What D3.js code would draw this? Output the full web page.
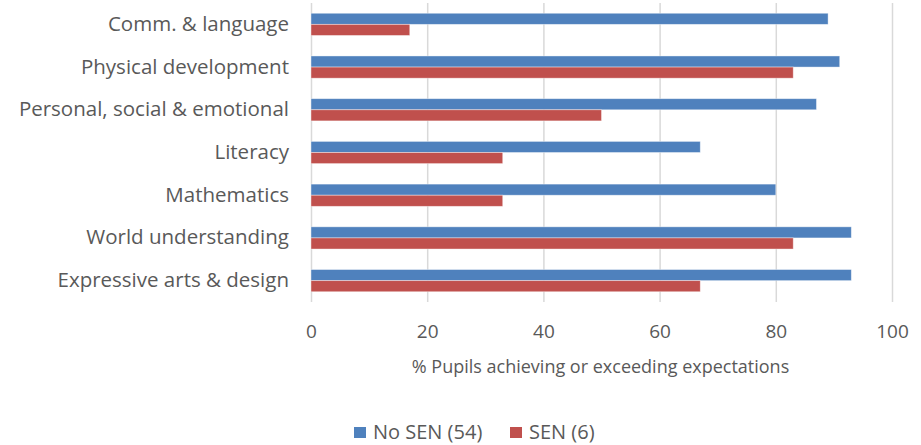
<!DOCTYPE html>
<html>
<head>
<meta charset="utf-8">
<script src="https://cdn.jsdelivr.net/npm/d3@7"></script>
<style>
  body { margin: 0; background: #fff; }
  text { font-family: "Open Sans", sans-serif; fill: #595959; }
</style>
</head>
<body>
<div id="chart"></div>
<script>
var categories = ["Comm. & language", "Physical development", "Personal, social & emotional",
  "Literacy", "Mathematics", "World understanding", "Expressive arts & design"];
var noSen = [89, 91, 87, 67, 80, 93, 93];
var sen = [17, 83, 50, 33, 33, 83, 67];
var seriesNames = ["No SEN (54)", "SEN (6)"];
var seriesColors = ["#4F81BD", "#C0504D"];
var ticks = [0, 20, 40, 60, 80, 100];

var width = 921, height = 445;
var margin = {left: 311, right: 29, top: 3, bottom: 143};

var svg = d3.select("#chart").append("svg")
  .attr("width", width)
  .attr("height", height);

var x = d3.scaleLinear()
  .domain([0, 100])
  .range([margin.left, width - margin.right]);

var y = d3.scaleBand()
  .domain(categories)
  .range([margin.top, height - margin.bottom])
  .paddingInner(0.48)
  .paddingOuter(0.24);

var sub = d3.scaleBand()
  .domain([0, 1])
  .range([0, y.bandwidth()]);

// gridlines
svg.append("g")
  .selectAll("line")
  .data(ticks)
  .enter()
  .append("line")
  .attr("x1", function(d) { return x(d) + 0.5; })
  .attr("x2", function(d) { return x(d) + 0.5; })
  .attr("y1", margin.top)
  .attr("y2", height - margin.bottom)
  .attr("stroke", "#D9D9D9")
  .attr("stroke-width", 1.5);

// bars
var rows = categories.map(function(c, i) { return {cat: c, vals: [noSen[i], sen[i]]}; });
var groups = svg.append("g")
  .selectAll("g")
  .data(rows)
  .enter()
  .append("g")
  .attr("transform", function(d) { return "translate(0," + y(d.cat) + ")"; });

groups.selectAll("rect")
  .data(function(d) { return d.vals; })
  .enter()
  .append("rect")
  .attr("x", x(0))
  .attr("y", function(d, i) { return sub(i); })
  .attr("width", function(d) { return x(d) - x(0); })
  .attr("height", sub.bandwidth())
  .attr("fill", function(d, i) { return seriesColors[i]; })
  .attr("stroke", "rgba(255,255,255,0.5)")
  .attr("stroke-width", 0.8);

// category labels
var yAxis = svg.append("g")
  .attr("transform", "translate(" + (margin.left - 22) + ",0)")
  .call(d3.axisLeft(y).tickSize(0).tickPadding(0));
yAxis.select(".domain").remove();
yAxis.selectAll("text")
  .style("font-family", "'Open Sans', sans-serif")
  .style("font-size", "20.5px")
  .attr("fill", "#595959")
  .attr("dy", "0.32em");

// x tick labels
var xAxis = svg.append("g")
  .attr("transform", "translate(0," + (height - margin.bottom) + ")")
  .call(d3.axisBottom(x).tickValues(ticks).tickSize(0).tickPadding(23));
xAxis.select(".domain").remove();
xAxis.selectAll("text")
  .style("font-family", "'Open Sans', sans-serif")
  .style("font-size", "19px")
  .attr("fill", "#595959");

// axis title
svg.append("text")
  .attr("x", (x(0) + x(100)) / 2 - 1)
  .attr("y", 373)
  .attr("text-anchor", "middle")
  .style("font-size", "18px")
  .text("% Pupils achieving or exceeding expectations");

// legend
var legendX = [354, 510];
var legend = svg.append("g")
  .selectAll("g")
  .data(seriesNames)
  .enter()
  .append("g")
  .attr("transform", function(d, i) { return "translate(" + legendX[i] + ",427)"; });

legend.append("rect")
  .attr("width", 12)
  .attr("height", 11)
  .attr("fill", function(d, i) { return seriesColors[i]; });

legend.append("text")
  .attr("x", 19)
  .attr("y", 12)
  .style("font-size", "20px")
  .text(function(d) { return d; });
</script>
</body>
</html>
